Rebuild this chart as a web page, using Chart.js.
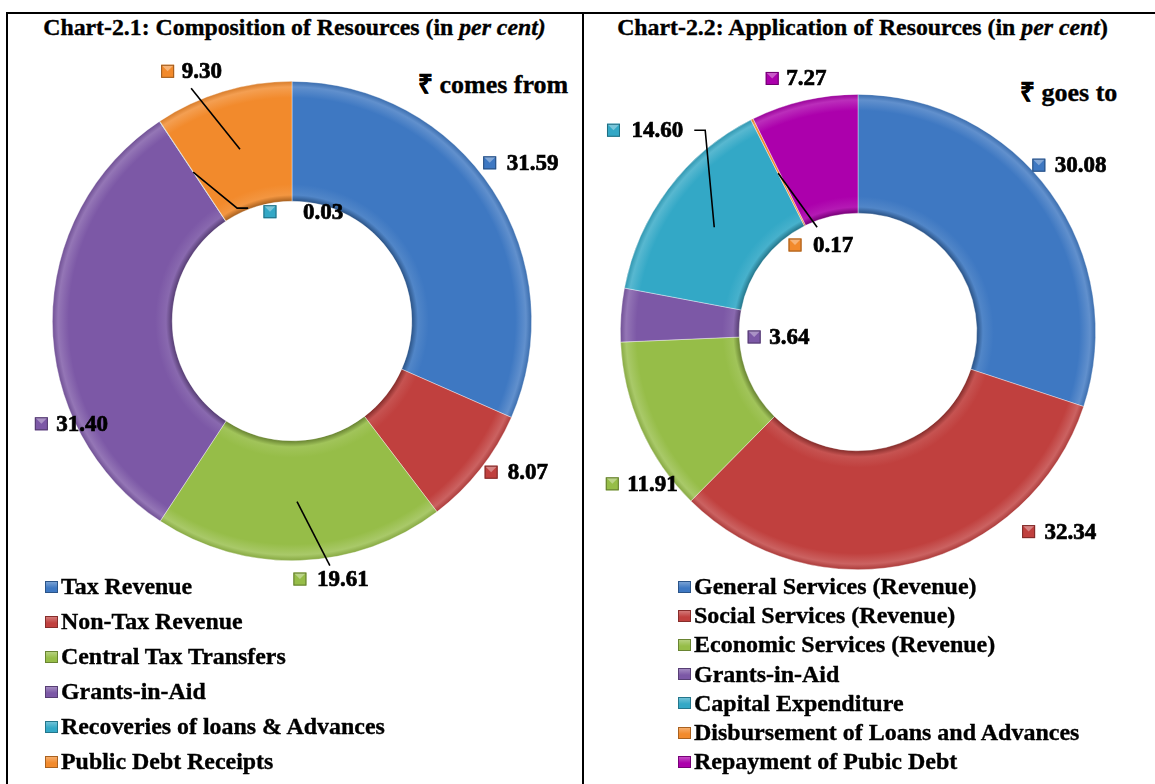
<!DOCTYPE html>
<html>
<head>
<meta charset="utf-8">
<script src="https://cdn.jsdelivr.net/npm/chart.js@4.4.0/dist/chart.umd.min.js"></script>
<style>
  body { margin:0; width:1155px; height:784px; overflow:hidden; background:#fff;
         font-family:"Liberation Serif","Times New Roman",serif; font-weight:bold; color:#000;
         -webkit-text-stroke:0.35px #000; }
  .frame { position:absolute; left:6px; top:12px; width:1170px; height:800px; border:2px solid #000; box-sizing:border-box; }
  .divider { position:absolute; left:582px; top:12px; width:2px; height:790px; background:#000; }
  canvas { position:absolute; }
  .title { position:absolute; top:12px; height:30px; line-height:30px; font-size:23.8px; text-align:center; white-space:nowrap; }
  .tag { position:absolute; height:32px; line-height:32px; font-size:26px; white-space:nowrap; }
  .legend { position:absolute; margin:0; padding:0; list-style:none; white-space:nowrap; }
  .legend li { display:flex; align-items:center; }
  .legend i { display:inline-block; width:13px; height:12px; margin-right:3px; box-sizing:border-box; -webkit-text-stroke:0; }
</style>
</head>
<body>
<div class="frame"></div>
<div class="divider"></div>

<div class="title" style="left:6px;width:577px">Chart-2.1: Composition of Resources (in <i>per cent)</i></div>
<div class="title" style="left:584px;width:557px">Chart-2.2: Application of Resources (in <i>per cent</i>)</div>
<div class="tag" style="left:418px;top:69px">₹ comes from</div>
<div class="tag" style="left:1020px;top:77px">₹ goes to</div>

<canvas id="comesFrom" width="574" height="770" style="left:8px;top:14px"></canvas>
<canvas id="goesTo" width="571" height="770" style="left:584px;top:14px"></canvas>

<ul id="legendFrom" class="legend" style="left:45px;top:569px;font-size:23.9px;line-height:35px"></ul>
<ul id="legendTo" class="legend" style="left:678px;top:572px;font-size:24px;line-height:29.2px"></ul>

<script>
// Chart-2.1: where the rupee comes from
const sourceLabels = ['Tax Revenue', 'Non-Tax Revenue', 'Central Tax Transfers', 'Grants-in-Aid',
                      'Recoveries of loans & Advances', 'Public Debt Receipts'];
const sourceShares = [31.59, 8.07, 19.61, 31.40, 0.03, 9.30];

// Chart-2.2: where the rupee goes to
const useLabels = ['General Services (Revenue)', 'Social Services (Revenue)', 'Economic Services (Revenue)',
                   'Grants-in-Aid', 'Capital Expenditure', 'Disbursement of Loans and Advances',
                   'Repayment of Pubic Debt'];
const useShares = [30.08, 32.34, 11.91, 3.64, 14.60, 0.17, 7.27];

const sourceColors = ['#3E78C2', '#C0403E', '#96BD48', '#7C58A6', '#33A8C6', '#F28A2C'];
const useColors    = ['#3E78C2', '#C0403E', '#96BD48', '#7C58A6', '#33A8C6', '#F28A2C', '#AC00AC'];

function shade(hex, amt) {
  const n = parseInt(hex.slice(1), 16);
  const t = amt < 0 ? 0 : 255, p = Math.abs(amt);
  const mix = c => Math.round(c + (t - c) * p);
  return `rgb(${mix(n >> 16)},${mix((n >> 8) & 255)},${mix(n & 255)})`;
}

// radial bevel so the ring looks like the embossed office style
function ringFill(colors, cut) {
  return ctx => {
    const base = colors[ctx.dataIndex];
    const a = ctx.chart.chartArea;
    if (!a) return base;
    const cx = (a.left + a.right) / 2, cy = (a.top + a.bottom) / 2;
    const R = Math.min(a.right - a.left, a.bottom - a.top) / 2;
    const g = ctx.chart.ctx.createRadialGradient(cx, cy, R * cut, cx, cy, R);
    g.addColorStop(0, shade(base, -0.3));
    g.addColorStop(0.05, shade(base, 0.1));
    g.addColorStop(0.14, base);
    g.addColorStop(0.86, base);
    g.addColorStop(0.95, shade(base, 0.18));
    g.addColorStop(1, shade(base, -0.12));
    return g;
  };
}

function drawMarker(ctx, x, y, c) {
  const h = 6.5;
  ctx.fillStyle = c;
  ctx.fillRect(x - h, y - h, 2 * h, 2 * h);
  ctx.fillStyle = shade(c, 0.35);
  ctx.beginPath();
  ctx.moveTo(x - h, y - h); ctx.lineTo(x + h, y - h); ctx.lineTo(x, y);
  ctx.closePath(); ctx.fill();
  ctx.strokeStyle = shade(c, -0.35);
  ctx.lineWidth = 1;
  ctx.strokeRect(x - h + 0.5, y - h + 0.5, 2 * h - 1, 2 * h - 1);
}

// value labels with little colour squares and leader lines
const callouts = {
  id: 'callouts',
  afterDatasetsDraw(chart, args, opts) {
    const arcs = chart.getDatasetMeta(0).data;
    if (!arcs.length) return;
    const { x: cx, y: cy, outerRadius: R } = arcs[0];
    const ds = chart.data.datasets[0];
    const ctx = chart.ctx;
    ctx.save();
    ctx.strokeStyle = '#000';
    ctx.lineWidth = 1.6;
    opts.lines.forEach(pts => {
      ctx.beginPath();
      pts.forEach(([u, v], i) => i ? ctx.lineTo(cx + u * R, cy + v * R) : ctx.moveTo(cx + u * R, cy + v * R));
      ctx.stroke();
    });
    ctx.font = `bold ${opts.fontSize}px "Liberation Serif", "Times New Roman", serif`;
    ctx.textBaseline = 'middle';
    opts.spots.forEach(([u, v, gap], i) => {
      const mx = cx + u * R, my = cy + v * R;
      drawMarker(ctx, mx, my, ds.markerColors[i]);
      const txt = ds.data[i].toFixed(2);
      ctx.fillStyle = '#000';
      ctx.strokeStyle = '#000';
      ctx.lineWidth = 0.7;
      ctx.fillText(txt, mx + gap, my + 1);
      ctx.strokeText(txt, mx + gap, my + 1);
    });
    ctx.restore();
  }
};

function makeRing(id, labels, values, colors, padding, spots, lines) {
  return new Chart(document.getElementById(id), {
    type: 'doughnut',
    data: {
      labels,
      datasets: [{
        data: values,
        markerColors: colors,
        backgroundColor: ringFill(colors, 0.5),
        borderColor: 'rgba(255,255,255,0.5)',
        borderWidth: 0.75
      }]
    },
    options: {
      responsive: false,
      animation: false,
      cutout: '50%',
      layout: { padding },
      plugins: {
        legend: { display: false },
        tooltip: { enabled: false },
        callouts: { fontSize: 23, spots, lines }
      }
    },
    plugins: [callouts]
  });
}

makeRing('comesFrom', sourceLabels, sourceShares, sourceColors,
  { left: 44, top: 67, right: 50, bottom: 223 },
  [[0.825, -0.660, 17], [0.831, 0.631, 16.5], [0.033, 1.077, 17],
   [-1.046, 0.429, 15], [-0.092, -0.456, 33], [-0.519, -1.042, 14]],
  [[[0.021, 0.754], [0.158, 1.021]],
   [[-0.4125, -0.621], [-0.229, -0.471], [-0.183, -0.471]],
   [[-0.421, -0.971], [-0.217, -0.717]]]);

makeRing('goesTo', useLabels, useShares, useColors,
  { left: 36, top: 80, right: 59, bottom: 214 },
  [[0.761, -0.702, 16], [0.718, 0.840, 16], [-1.034, 0.639, 15], [-0.437, 0.021, 15],
   [-1.029, -0.849, 18], [-0.265, -0.366, 18], [-0.361, -1.067, 14]],
  [[[-0.689, -0.849], [-0.643, -0.849], [-0.605, -0.441]],
   [[-0.336, -0.668], [-0.172, -0.441]]]);

// html legends, one entry per row
function fillLegend(id, labels, colors) {
  const ul = document.getElementById(id);
  labels.forEach((name, i) => {
    const li = document.createElement('li');
    const box = document.createElement('i');
    box.style.background = `linear-gradient(${shade(colors[i], 0.3)}, ${colors[i]} 60%)`;
    box.style.border = `1px solid ${shade(colors[i], -0.3)}`;
    li.append(box, name);
    ul.appendChild(li);
  });
}
fillLegend('legendFrom', sourceLabels, sourceColors);
fillLegend('legendTo', useLabels, useColors);
</script>
</body>
</html>
